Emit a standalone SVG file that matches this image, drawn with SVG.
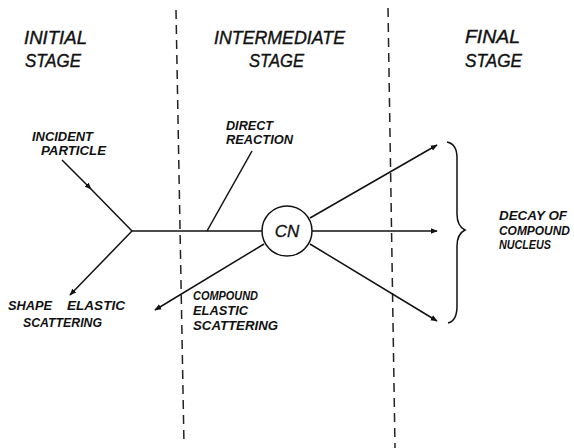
<svg xmlns="http://www.w3.org/2000/svg" width="574" height="448" viewBox="0 0 574 448">
<defs>
<marker id="arr" viewBox="0 0 10 10" refX="9" refY="5" markerWidth="7" markerHeight="7" markerUnits="userSpaceOnUse" orient="auto">
<path d="M0,1 L10,5 L0,9 z" fill="#111"/>
</marker>
<marker id="mid" viewBox="0 0 10 10" refX="5" refY="5" markerWidth="7" markerHeight="7" markerUnits="userSpaceOnUse" orient="auto">
<path d="M0,1 L10,5 L0,9 z" fill="#111"/>
</marker>
<style>
.ln{stroke:#111;stroke-width:1.5;fill:none}
.dash{stroke:#222;stroke-width:1.5;fill:none;stroke-dasharray:9 6}
text{font-family:"Liberation Sans",Arial,sans-serif;font-style:italic;fill:#111}
.big{font-size:19px;stroke:#111;stroke-width:0.4}
.sm{font-size:12px;font-weight:bold}
.cn{font-size:17px;text-anchor:middle;stroke:#111;stroke-width:0.3}
</style>
</defs>
<rect width="574" height="448" fill="#fff"/>
<g id="dividers">
<line class="dash" x1="176" y1="10" x2="184" y2="445"/>
<line class="dash" x1="388" y1="8" x2="395" y2="448"/>
</g>
<g id="headers">
<text class="big" x="24" y="44" textLength="63" lengthAdjust="spacingAndGlyphs">INITIAL</text>
<text class="big" x="25" y="67" textLength="56" lengthAdjust="spacingAndGlyphs">STAGE</text>
<text class="big" x="214" y="44" textLength="131" lengthAdjust="spacingAndGlyphs">INTERMEDIATE</text>
<text class="big" x="249" y="67" textLength="55" lengthAdjust="spacingAndGlyphs">STAGE</text>
<text class="big" x="465" y="43" textLength="55" lengthAdjust="spacingAndGlyphs">FINAL</text>
<text class="big" x="465" y="67" textLength="57" lengthAdjust="spacingAndGlyphs">STAGE</text>
</g>
<g id="connectors">
<polyline class="ln" points="62,160 89,187 132,231" marker-mid="url(#mid)"/>
<line class="ln" x1="132" y1="231" x2="262" y2="231"/>
<line class="ln" x1="132" y1="231" x2="70" y2="295" marker-end="url(#arr)"/>
<line class="ln" x1="252" y1="151" x2="207" y2="231"/>
<line class="ln" x1="264" y1="244" x2="155" y2="310" marker-end="url(#arr)"/>
<line class="ln" x1="310" y1="218" x2="437" y2="145" marker-end="url(#arr)"/>
<line class="ln" x1="312" y1="231" x2="437" y2="231" marker-end="url(#arr)"/>
<line class="ln" x1="310" y1="244" x2="437" y2="321" marker-end="url(#arr)"/>
</g>
<g id="cn">
<circle class="ln" cx="287" cy="231" r="25"/>
<text class="cn" x="287" y="237">CN</text>
</g>
<g id="brace">
<path class="ln" d="M447,142 Q457,144 457,158 L457,214 Q457,226 465,230 Q457,234 457,246 L457,306 Q457,321 448,323"/>
</g>
<g id="labels">
<text class="sm" x="32" y="141" textLength="61" lengthAdjust="spacingAndGlyphs">INCIDENT</text>
<text class="sm" x="41" y="155" textLength="65" lengthAdjust="spacingAndGlyphs">PARTICLE</text>
<text class="sm" x="226" y="130" textLength="47" lengthAdjust="spacingAndGlyphs">DIRECT</text>
<text class="sm" x="226" y="144" textLength="67" lengthAdjust="spacingAndGlyphs">REACTION</text>
<text class="sm" x="8" y="310" textLength="44" lengthAdjust="spacingAndGlyphs">SHAPE</text>
<text class="sm" x="67" y="310" textLength="58" lengthAdjust="spacingAndGlyphs">ELASTIC</text>
<text class="sm" x="23" y="327" textLength="79" lengthAdjust="spacingAndGlyphs">SCATTERING</text>
<text class="sm" x="193" y="300" textLength="65" lengthAdjust="spacingAndGlyphs">COMPOUND</text>
<text class="sm" x="193" y="315" textLength="55" lengthAdjust="spacingAndGlyphs">ELASTIC</text>
<text class="sm" x="193" y="330" textLength="85" lengthAdjust="spacingAndGlyphs">SCATTERING</text>
<text class="sm" x="499" y="220" textLength="68" lengthAdjust="spacingAndGlyphs">DECAY  OF</text>
<text class="sm" x="499" y="235" textLength="71" lengthAdjust="spacingAndGlyphs">COMPOUND</text>
<text class="sm" x="499" y="249" textLength="52" lengthAdjust="spacingAndGlyphs">NUCLEUS</text>
</g>
</svg>
